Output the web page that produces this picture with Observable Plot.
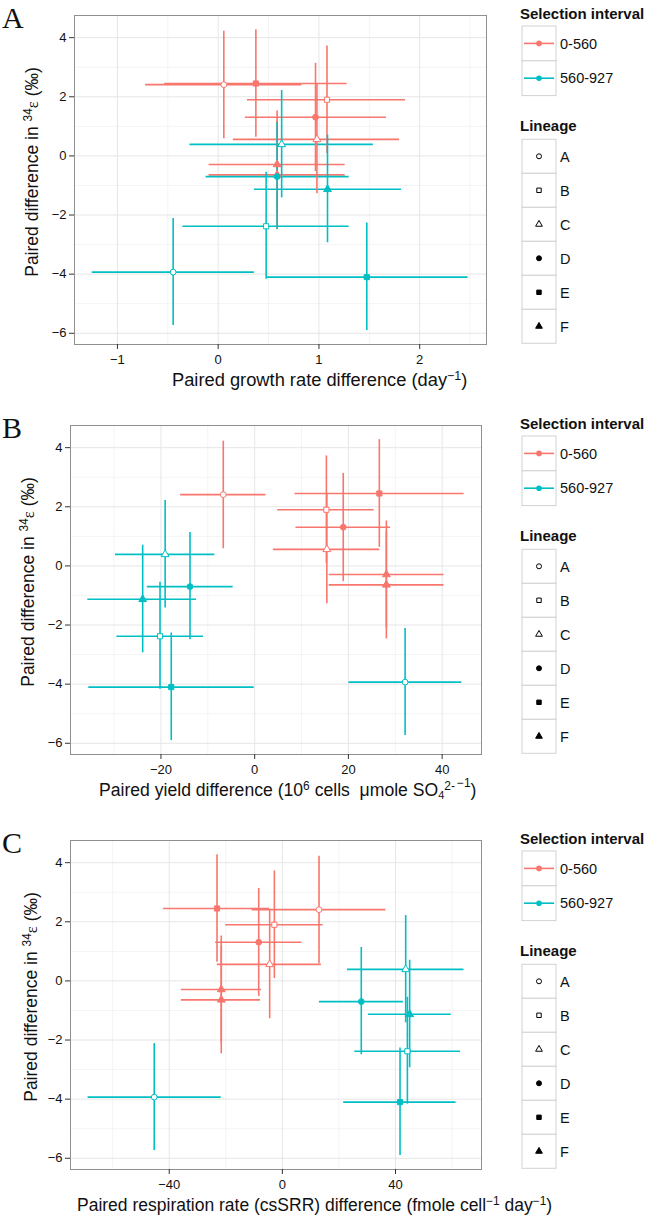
<!DOCTYPE html>
<html><head><meta charset="utf-8">
<script src="https://cdn.jsdelivr.net/npm/d3@7"></script>
<script src="https://cdn.jsdelivr.net/npm/@observablehq/plot@0.6"></script>
<style>
body{margin:0;background:#fff;}
#root{position:relative;width:650px;height:1216px;overflow:hidden;font-family:"Liberation Sans",Arial,sans-serif;color:#111;background:#fff;}
.panel{position:absolute;left:0;}
.letter{position:absolute;left:2px;font-family:"Liberation Serif","Times New Roman",serif;font-size:30px;line-height:30px;}
.xt{position:absolute;font-size:17.5px;line-height:20px;white-space:nowrap;}
.yt{position:absolute;font-size:17.5px;line-height:20px;white-space:nowrap;transform:translate(-50%,-50%) rotate(-90deg);}
sup{font-size:0.68em;vertical-align:0.5em;line-height:0;}
sub{font-size:0.62em;vertical-align:-0.3em;line-height:0;}
sup.hi{vertical-align:0.72em;margin-left:2px;}
.eps{font-family:"Liberation Serif",serif;font-size:0.95em;}
</style></head><body><div id="root"></div>
<script>
// ---- data ----
const lineage  = ["A","E","B","D","C","F","F","C","D","F","B","E","A"];
const interval = ["0-560","0-560","0-560","0-560","0-560","0-560","0-560",
                  "560-927","560-927","560-927","560-927","560-927","560-927"];
// paired difference in 34-epsilon (permil) with error bar bounds
const diff34  = [2.41, 2.45, 1.90, 1.31, 0.56, -0.29, -0.64, 0.39, -0.70, -1.13, -2.38, -4.10, -3.93];
const diffLo  = [0.58, 0.63, 0.08, -0.53, -1.28, -2.10, -2.47, -1.42, -2.50, -2.94, -4.17, -5.91, -5.74];
const diffHi  = [4.22, 4.27, 3.72, 3.13, 2.42, 1.52, 1.18, 2.21, 1.13, 0.70, -0.55, -2.27, -2.12];
// panel A: growth rate difference (day^-1)
const growthX  = [0.056, 0.374, 1.08, 0.966, 0.98, 0.585, 0.585, 0.63, 0.585, 1.085, 0.476, 1.475, -0.447];
const growthLo = [-0.72, -0.53, 0.29, 0.27, 0.15, -0.09, -0.09, -0.28, -0.12, 0.36, -0.35, 0.48, -1.25];
const growthHi = [0.83, 1.28, 1.86, 1.67, 1.80, 1.26, 1.26, 1.54, 1.30, 1.82, 1.30, 2.48, 0.36];
// panel B: yield difference
const yieldX  = [-6.7, 26.6, 15.3, 18.9, 15.4, 28.1, 28.1, -19.1, -13.8, -23.9, -20.2, -17.8, 32.1];
const yieldLo = [-15.8, 8.6, 4.9, 8.8, 4.0, 15.9, 15.9, -29.7, -22.9, -35.6, -29.4, -35.4, 20.1];
const yieldHi = [2.4, 44.7, 25.5, 29.0, 26.7, 40.4, 40.4, -8.5, -4.6, -12.4, -10.9, -0.1, 44.2];
// panel C: respiration rate (csSRR) difference
const respX  = [12.96, -23.1, -2.83, -8.36, -4.48, -21.6, -21.6, 43.6, 27.9, 45.0, 44.2, 41.6, -45.3];
const respLo = [-10.7, -42.0, -20.0, -23.6, -23.0, -35.7, -35.7, 23.0, 13.1, 30.4, 25.6, 21.7, -68.7];
const respHi = [36.6, -4.5, 14.4, 6.9, 13.8, -7.4, -7.7, 64.2, 42.8, 59.7, 63.0, 61.4, -21.6];

const intervals = ["0-560", "560-927"];
const intervalColors = ["#F8766D", "#00BFC4"];
const lineages = ["A","B","C","D","E","F"];
const lineageSymbols = [d3.symbolCircle, d3.symbolSquare, d3.symbolTriangle, d3.symbolCircle, d3.symbolSquare, d3.symbolTriangle];
const openLineages = ["A","B","C"];
const yTicks = [-6,-4,-2,0,2,4];
const yMinor = [-5,-3,-1,1,3];

const colorOf = v => intervalColors[intervals.indexOf(v)];
const rows = lineage.map((l, i) => ({
  lineage: l, interval: interval[i], color: colorOf(interval[i]),
  fill: openLineages.includes(l) ? "white" : colorOf(interval[i]),
  y: diff34[i], ylo: diffLo[i], yhi: diffHi[i],
  A: growthX[i], Alo: growthLo[i], Ahi: growthHi[i],
  B: yieldX[i], Blo: yieldLo[i], Bhi: yieldHi[i],
  C: respX[i], Clo: respLo[i], Chi: respHi[i]
}));

const panels = [
  {key: "A", top: 0, ml: 74, mr: 14, xdom: [-1.426, 2.663], ticks: [-1,0,1,2], minor: [-0.5,0.5,1.5,2.5],
   xtitle: 'Paired growth rate difference (day<sup>−1</sup>)', xtLeft: 172, xtSize: 18.3, ytX: 32},
  {key: "B", top: 410, ml: 70, mr: 19, xdom: [-39.3, 48.4], ticks: [-20,0,20,40], minor: [-30,-10,10,30],
   xtitle: 'Paired yield difference (10<sup>6</sup> cells&nbsp; μmole SO<sub>4</sub><sup>2-</sup><sup class="hi">−1</sup>)', xtLeft: 99, xtSize: 17.6, ytX: 28},
  {key: "C", top: 825, ml: 70, mr: 19, xdom: [-74.9, 70.4], ticks: [-40,0,40], minor: [-60,-20,20,60],
   xtitle: 'Paired respiration rate (csSRR) difference (fmole cell<sup>−1</sup> day<sup>−1</sup>)', xtLeft: 77, xtSize: 17.5, ytX: 31}
];

const fmt = d => (d < 0 ? "\u2212" : "") + Math.abs(d);
const root = document.getElementById("root");

for (const p of panels) {
  const k = p.key;
  const chart = Plot.plot({
    width: 500, height: 400,
    marginLeft: p.ml, marginRight: p.mr, marginTop: 15, marginBottom: 56,
    style: {fontFamily: '"Liberation Sans", Arial, sans-serif', fontSize: "13px", color: "#111", background: "transparent", overflow: "visible"},
    x: {domain: p.xdom},
    y: {domain: [-6.38, 4.75]},
    color: {type: "identity"},
    symbol: {domain: lineages, range: lineageSymbols},
    marks: [
      Plot.ruleX(p.minor, {stroke: "#f4f4f4", strokeWidth: 1}),
      Plot.ruleY(yMinor, {stroke: "#f4f4f4", strokeWidth: 1}),
      Plot.gridX(p.ticks, {stroke: "#e6e6e6", strokeOpacity: 1, strokeWidth: 1}),
      Plot.gridY(yTicks, {stroke: "#e6e6e6", strokeOpacity: 1, strokeWidth: 1}),
      Plot.ruleY(rows, {y: "y", x1: k + "lo", x2: k + "hi", stroke: "color", strokeWidth: 1.6}),
      Plot.ruleX(rows, {x: k, y1: "ylo", y2: "yhi", stroke: "color", strokeWidth: 1.6}),
      Plot.dot(rows, {x: k, y: "y", symbol: "lineage", fill: "fill", stroke: "color", strokeWidth: 1, r: 2.9}),
      Plot.frame({stroke: "#8f8f8f", strokeWidth: 1}),
      Plot.axisX(p.ticks, {tickSize: 5, tickPadding: 5, label: null, tickFormat: fmt, stroke: "#333", fontSize: 13}),
      Plot.axisY(yTicks, {tickSize: 5, tickPadding: 3, label: null, tickFormat: fmt, stroke: "#333", fontSize: 13})
    ]
  });
  const wrap = document.createElement("div");
  wrap.className = "panel";
  wrap.style.top = p.top + "px";
  wrap.appendChild(chart);
  root.appendChild(wrap);

  const letter = document.createElement("div");
  letter.className = "letter";
  letter.style.top = (p.top + 3) + "px";
  letter.textContent = k;
  root.appendChild(letter);

  const xt = document.createElement("div");
  xt.className = "xt";
  xt.style.left = p.xtLeft + "px";
  xt.style.top = (p.top + 370) + "px";
  xt.style.fontSize = p.xtSize + "px";
  xt.innerHTML = p.xtitle;
  root.appendChild(xt);

  const yt = document.createElement("div");
  yt.className = "yt";
  yt.style.left = p.ytX + "px";
  yt.style.top = (p.top + 172) + "px";
  yt.innerHTML = 'Paired difference in <sup>34</sup><span class="eps">ε</span> (‰)';
  root.appendChild(yt);

  // legend
  const svg = d3.create("svg").attr("width", 132).attr("height", 360)
    .style("position", "absolute").style("left", "518px").style("top", p.top + "px")
    .style("font-family", '"Liberation Sans", Arial, sans-serif');
  svg.append("text").attr("x", 2).attr("y", 19).attr("font-size", 15).attr("font-weight", "bold").attr("fill", "#111").text("Selection interval");
  intervals.forEach((v, i) => {
    const y0 = 26 + i * 34.8;
    svg.append("rect").attr("x", 4).attr("y", y0).attr("width", 34).attr("height", 34.8).attr("fill", "white").attr("stroke", "#d2d2d2");
    svg.append("line").attr("x1", 6).attr("x2", 36).attr("y1", y0 + 17.4).attr("y2", y0 + 17.4).attr("stroke", intervalColors[i]).attr("stroke-width", 1.6);
    svg.append("circle").attr("cx", 21).attr("cy", y0 + 17.4).attr("r", 2.8).attr("fill", intervalColors[i]);
    svg.append("text").attr("x", 42).attr("y", y0 + 22.5).attr("font-size", 14.5).attr("fill", "#111").text(v);
  });
  svg.append("text").attr("x", 2).attr("y", 130.5).attr("font-size", 15).attr("font-weight", "bold").attr("fill", "#111").text("Lineage");
  lineages.forEach((v, i) => {
    const y0 = 139.3 + i * 34;
    svg.append("rect").attr("x", 4).attr("y", y0).attr("width", 34).attr("height", 34).attr("fill", "white").attr("stroke", "#d2d2d2");
    const open = openLineages.includes(v);
    svg.append("path").attr("d", d3.symbol(lineageSymbols[i], Math.PI * 2.5 * 2.5)())
      .attr("transform", `translate(21,${y0 + 17})`)
      .attr("fill", open ? "white" : "#000").attr("stroke", "#000").attr("stroke-width", 1);
    svg.append("text").attr("x", 42).attr("y", y0 + 22.2).attr("font-size", 14.5).attr("fill", "#111").text(v);
  });
  root.appendChild(svg.node());
}
</script></body></html>
